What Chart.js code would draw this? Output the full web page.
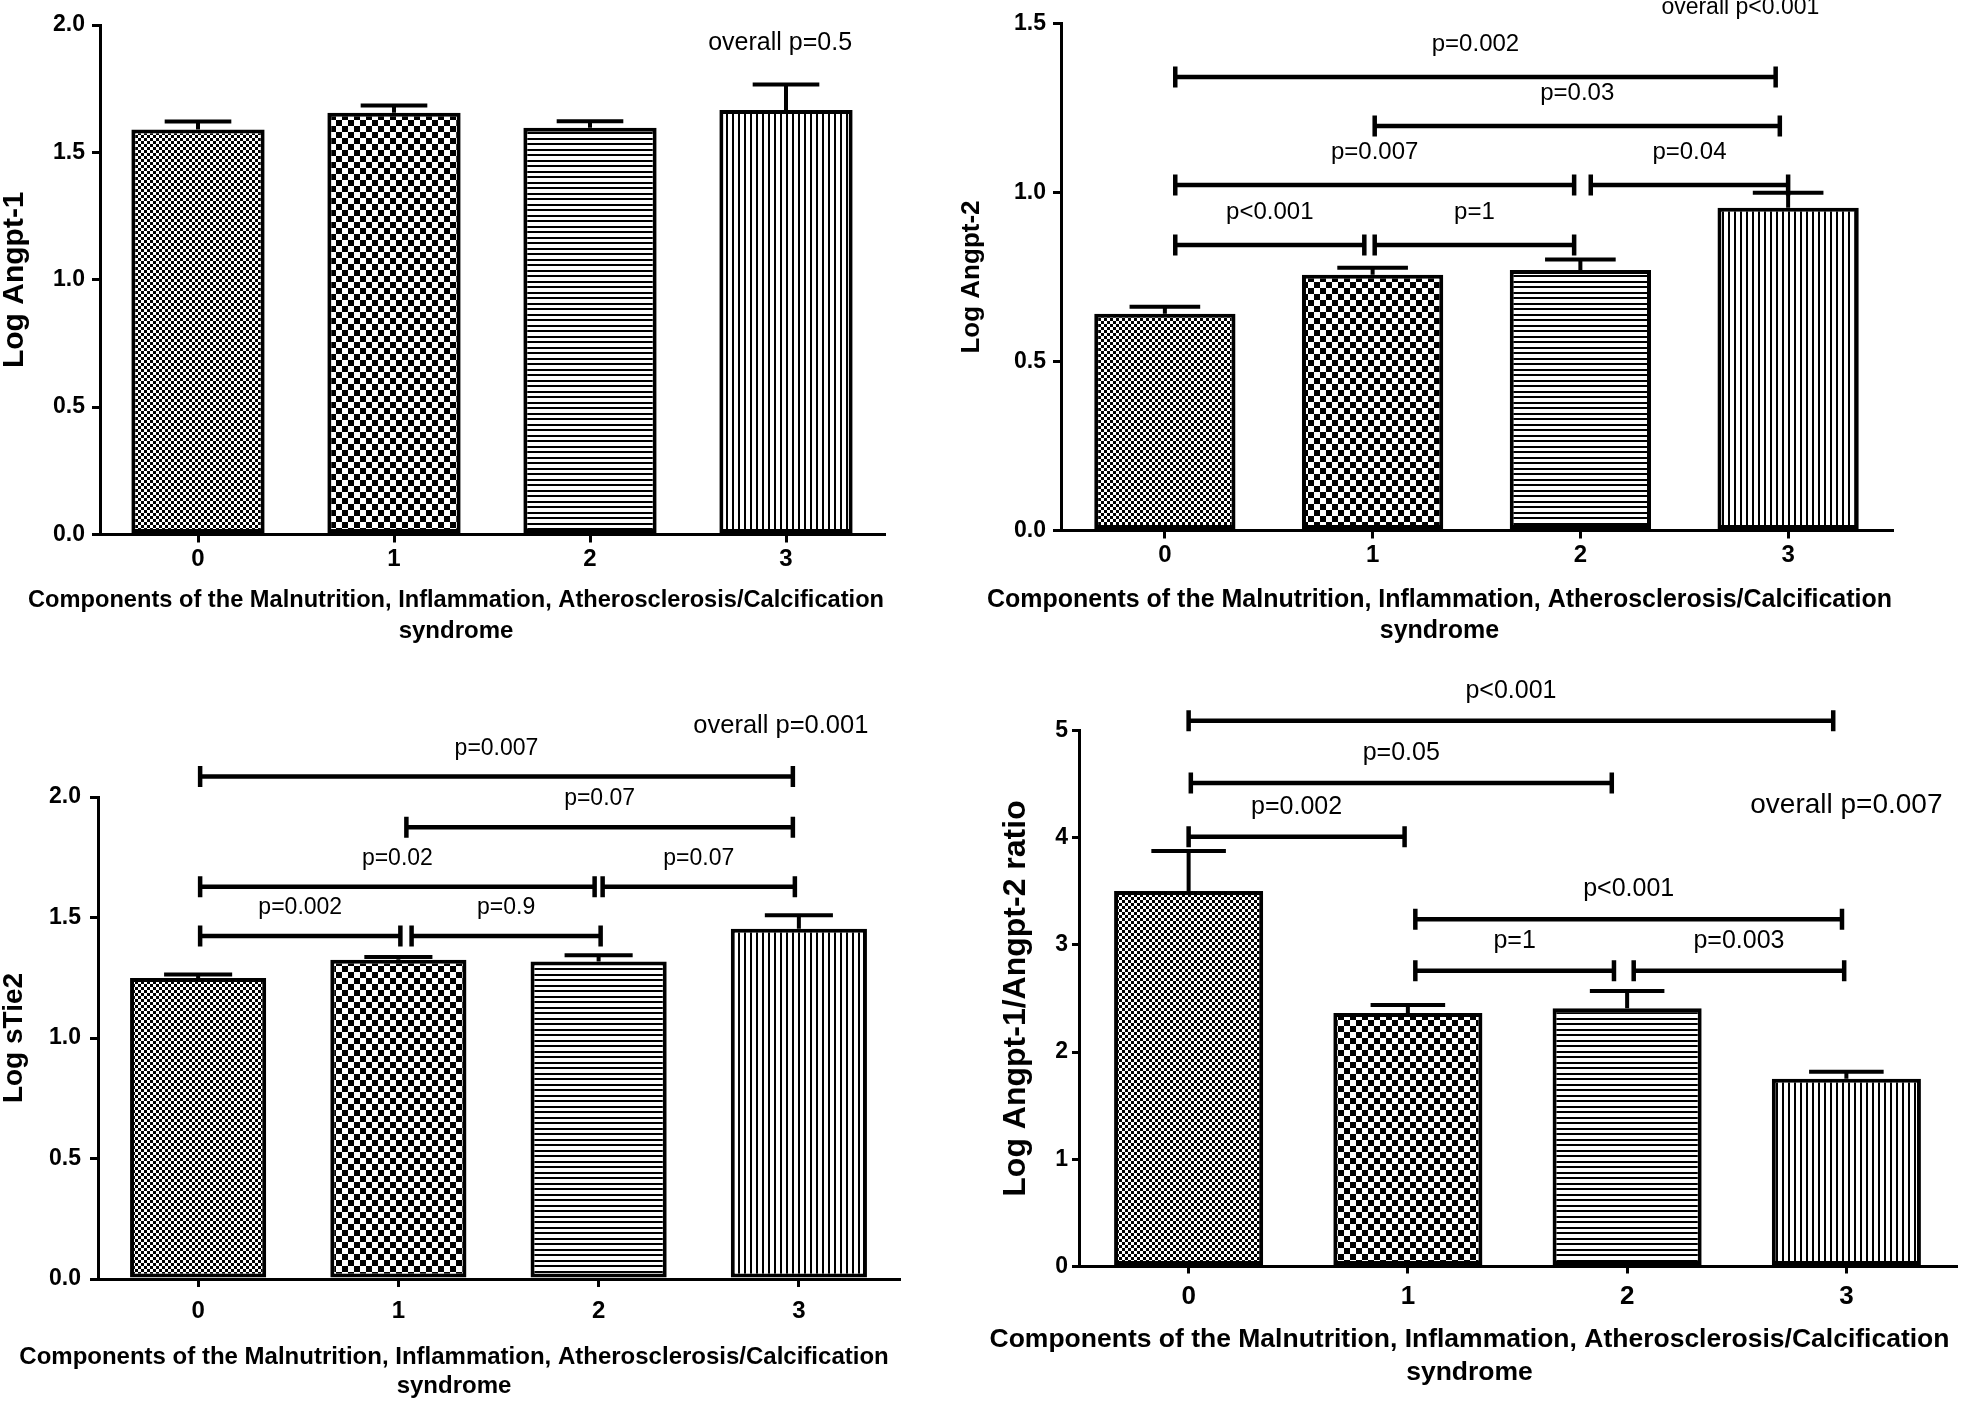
<!DOCTYPE html>
<html><head><meta charset="utf-8">
<script src="https://cdn.jsdelivr.net/npm/chart.js@4.4.1/dist/chart.umd.min.js"></script>
<style>
html,body{margin:0;padding:0;background:#fff;}
#wrap{position:relative;width:1961px;height:1401px;overflow:hidden;background:#fff;}
canvas{position:absolute;left:0;top:0;}
</style></head><body><div id="wrap">
<canvas id="c1" width="1961" height="1401"></canvas>
<canvas id="c2" width="1961" height="1401"></canvas>
<canvas id="c3" width="1961" height="1401"></canvas>
<canvas id="c4" width="1961" height="1401"></canvas>
</div>
<script>
// ---------- data ----------
const categories = ['0', '1', '2', '3'];
const xTitleLines = ['Components of the Malnutrition, Inflammation, Atherosclerosis/Calcification', 'syndrome'];

const angpt1Mean = [1.590, 1.656, 1.597, 1.666];
const angpt1Sem  = [0.031, 0.028, 0.025, 0.100];
const angpt1Ticks = [0, 0.5, 1.0, 1.5, 2.0];

const angpt2Mean = [0.641, 0.757, 0.771, 0.955];
const angpt2Sem  = [0.021, 0.020, 0.031, 0.044];
const angpt2Ticks = [0, 0.5, 1.0, 1.5];
const angpt2Pairs = [[0, 1], [1, 2], [0, 2], [2, 3], [1, 3], [0, 3]];
const angpt2PLabels = ['p<0.001', 'p=1', 'p=0.007', 'p=0.04', 'p=0.03', 'p=0.002'];

const sTie2Mean = [1.249, 1.325, 1.317, 1.453];
const sTie2Sem  = [0.015, 0.011, 0.026, 0.056];
const sTie2Ticks = [0, 0.5, 1.0, 1.5, 2.0];
const sTie2Pairs = [[0, 1], [1, 2], [0, 2], [2, 3], [1, 3], [0, 3]];
const sTie2PLabels = ['p=0.002', 'p=0.9', 'p=0.02', 'p=0.07', 'p=0.07', 'p=0.007'];

const ratioMean = [3.503, 2.364, 2.408, 1.751];
const ratioSem  = [0.372, 0.075, 0.162, 0.066];
const ratioTicks = [0, 1, 2, 3, 4, 5];
const ratioPairs = [[0, 1], [0, 2], [0, 3], [1, 2], [2, 3], [1, 3]];
const ratioPLabels = ['p=0.002', 'p=0.05', 'p<0.001', 'p=1', 'p=0.003', 'p<0.001'];

const overallLabels = ['overall p=0.5', 'overall p<0.001', 'overall p=0.001', 'overall p=0.007'];

// ---------- annotation placement (data units) ----------
const annot = {
  p1: { levels: [], ends: [], overallAt: [2.97, 1.93] },
  p2: { levels: [0.845, 0.845, 1.022, 1.022, 1.197, 1.342],
        ends: [[0.05, 0.96], [1.01, 1.97], [0.05, 1.97], [2.05, 3.0], [1.01, 2.96], [0.05, 2.94]],
        overallAt: [2.77, 1.546] },
  p3: { levels: [1.423, 1.423, 1.628, 1.628, 1.875, 2.085],
        ends: [[0.01, 1.01], [1.066, 2.01], [0.01, 1.98], [2.02, 2.98], [1.04, 2.97], [0.01, 2.97]],
        overallAt: [2.91, 2.295] },
  p4: { levels: [4.01, 4.51, 5.09, 2.76, 2.76, 3.24],
        ends: [[0, 0.985], [0.01, 1.93], [0, 2.94], [1.034, 1.94], [2.03, 2.99], [1.034, 2.98]],
        overallAt: [3.0, 4.30] }
};

const FAM = "'Liberation Sans', Arial, Helvetica, sans-serif";

// ---------- fill patterns ----------
function makePattern(kind) {
  const c = document.createElement('canvas');
  const g = c.getContext('2d');
  if (kind === 'fine') {
    c.width = 6; c.height = 6;
    g.fillStyle = '#fff'; g.fillRect(0, 0, 6, 6);
    g.fillStyle = '#000'; g.fillRect(0, 0, 3, 3); g.fillRect(3, 3, 3, 3);
  } else if (kind === 'check') {
    c.width = 12; c.height = 12;
    g.fillStyle = '#fff'; g.fillRect(0, 0, 12, 12);
    g.fillStyle = '#000'; g.fillRect(0, 0, 6, 6); g.fillRect(6, 6, 6, 6);
  } else if (kind === 'hline') {
    c.width = 4; c.height = 11;
    g.fillStyle = '#fff'; g.fillRect(0, 0, 4, 11);
    g.fillStyle = '#000'; g.fillRect(0, 0, 4, 2); g.fillRect(0, 6, 4, 2);
  } else {
    c.width = 12; c.height = 4;
    g.fillStyle = '#fff'; g.fillRect(0, 0, 12, 4);
    g.fillStyle = '#000'; g.fillRect(0, 0, 2, 4); g.fillRect(6, 0, 2, 4);
  }
  return g.createPattern(c, 'repeat');
}
const fills = [makePattern('fine'), makePattern('check'), makePattern('hline'), makePattern('vline')];

// ---------- plugins ----------
const errBarPlugin = {
  id: 'errBars',
  afterDatasetsDraw(chart, args, o) {
    const { ctx } = chart;
    const x = chart.scales.x, y = chart.scales.y;
    const meta = chart.getDatasetMeta(0);
    ctx.save();
    ctx.strokeStyle = '#000'; ctx.lineWidth = o.lineWidth; ctx.lineCap = 'butt';
    o.mean.forEach((m, i) => {
      const px = x.getPixelForValue(i);
      const y0 = y.getPixelForValue(m);
      const y1 = y.getPixelForValue(m + o.sem[i]);
      const half = meta.data[i].width * o.capFrac / 2;
      ctx.beginPath();
      ctx.moveTo(px, y0); ctx.lineTo(px, y1);
      ctx.moveTo(px - half, y1); ctx.lineTo(px + half, y1);
      ctx.stroke();
    });
    ctx.restore();
  }
};

const annotPlugin = {
  id: 'annot',
  afterDraw(chart, args, o) {
    const { ctx } = chart;
    const x = chart.scales.x, y = chart.scales.y;
    ctx.save();
    ctx.strokeStyle = '#000'; ctx.fillStyle = '#000';
    ctx.textAlign = 'center'; ctx.textBaseline = 'middle';
    ctx.font = o.labelSize + 'px ' + FAM;
    (o.labels || []).forEach((lab, k) => {
      const xa = x.getPixelForValue(o.ends[k][0]);
      const xb = x.getPixelForValue(o.ends[k][1]);
      const yy = y.getPixelForValue(o.levels[k]);
      ctx.lineWidth = o.lineWidth;
      ctx.beginPath();
      ctx.moveTo(xa, yy); ctx.lineTo(xb, yy);
      ctx.stroke();
      ctx.lineWidth = o.tickWidth;
      ctx.beginPath();
      ctx.moveTo(xa, yy - o.tickH / 2); ctx.lineTo(xa, yy + o.tickH / 2);
      ctx.moveTo(xb, yy - o.tickH / 2); ctx.lineTo(xb, yy + o.tickH / 2);
      ctx.stroke();
      ctx.fillText(lab, (xa + xb) / 2, yy - o.labelOffset);
    });
    ctx.font = o.overallSize + 'px ' + FAM;
    ctx.fillText(o.overall, x.getPixelForValue(o.overallAt[0]), y.getPixelForValue(o.overallAt[1]));
    ctx.restore();
  }
};

// ---------- builder ----------
function buildPanel(id, p) {
  const ticksFmt = p.decimals;
  return new Chart(document.getElementById(id), {
    type: 'bar',
    data: {
      labels: categories,
      datasets: [{
        data: p.mean,
        backgroundColor: fills,
        borderColor: '#000',
        borderWidth: 4,
        borderSkipped: false,
        barPercentage: 0.68,
        categoryPercentage: 1
      }]
    },
    options: {
      responsive: false,
      animation: false,
      devicePixelRatio: 1,
      layout: { padding: p.pad },
      events: [],
      plugins: {
        legend: { display: false },
        tooltip: { enabled: false },
        title: {
          display: true, position: 'bottom', align: 'center',
          text: xTitleLines, color: '#000',
          font: { family: FAM, size: p.xTitleSize, weight: 'bold', lineHeight: p.xTitleLH + 'px' },
          padding: { top: 0, bottom: 0 }
        },
        errBars: { mean: p.mean, sem: p.sem, lineWidth: 4, capFrac: 0.5 },
        annot: {
          labels: p.pLabels, ends: p.annot.ends, levels: p.annot.levels,
          labelSize: p.labelSize, labelOffset: p.labelOffset,
          lineWidth: 4.5, tickWidth: 4.5, tickH: 21,
          overall: p.overall, overallAt: p.annot.overallAt, overallSize: p.overallSize
        }
      },
      scales: {
        x: {
          type: 'category', offset: true,
          grid: { display: true, drawOnChartArea: false, drawTicks: true, tickLength: p.tickLen, lineWidth: 3, color: '#000', offset: false },
          border: { display: true, width: 3, color: '#000' },
          ticks: { color: '#000', padding: p.xTickPad, font: { family: FAM, size: p.xTickSize, weight: 'bold' } },
          afterFit(s) { s.height = p.xH; }
        },
        y: {
          min: 0, max: p.ticks[p.ticks.length - 1],
          afterBuildTicks(s) { s.ticks = p.ticks.map(v => ({ value: v })); },
          grid: { display: true, drawOnChartArea: false, drawTicks: true, tickLength: p.tickLen, lineWidth: 3, color: '#000' },
          border: { display: true, width: 3, color: '#000' },
          ticks: { color: '#000', padding: p.yTickPad, font: { family: FAM, size: p.yTickSize, weight: 'bold' },
                   callback: v => Number(v).toFixed(ticksFmt) },
          title: { display: true, text: p.yTitle, color: '#000',
                   font: { family: FAM, size: p.yTitleSize, weight: 'bold', lineHeight: 1.2 },
                   padding: { top: p.yTitlePad, bottom: 0 } },
          afterFit(s) { s.width = p.yW; }
        }
      }
    },
    plugins: [errBarPlugin, annotPlugin]
  });
}

buildPanel('c1', {
  mean: angpt1Mean, sem: angpt1Sem, ticks: angpt1Ticks, decimals: 1,
  pLabels: [], annot: annot.p1, overall: overallLabels[0], overallSize: 25,
  labelSize: 23, labelOffset: 32,
  pad: { left: 28, right: 1077, top: 25, bottom: 754.5 },
  yW: 72, xH: 50, tickLen: 8,
  xTickSize: 24, xTickPad: 2, yTickSize: 23, yTickPad: 7,
  xTitleSize: 24, xTitleLH: 31,
  yTitle: 'Log Angpt-1', yTitleSize: 30, yTitlePad: -31
});

buildPanel('c2', {
  mean: angpt2Mean, sem: angpt2Sem, ticks: angpt2Ticks, decimals: 1,
  pLabels: angpt2PLabels, annot: annot.p2, overall: overallLabels[1], overallSize: 23,
  labelSize: 24, labelOffset: 33,
  pad: { left: 987, right: 69, top: 23.5, bottom: 754 },
  yW: 74, xH: 54.5, tickLen: 8,
  xTickSize: 24, xTickPad: 2, yTickSize: 23, yTickPad: 7,
  xTitleSize: 25, xTitleLH: 31,
  yTitle: 'Log Angpt-2', yTitleSize: 26, yTitlePad: -30.6
});

buildPanel('c3', {
  mean: sTie2Mean, sem: sTie2Sem, ticks: sTie2Ticks, decimals: 1,
  pLabels: sTie2PLabels, annot: annot.p3, overall: overallLabels[2], overallSize: 25.5,
  labelSize: 23, labelOffset: 28,
  pad: { left: 9, right: 1062, top: 797, bottom: 0 },
  yW: 89, xH: 64, tickLen: 8,
  xTickSize: 24, xTickPad: 10, yTickSize: 23, yTickPad: 9,
  xTitleSize: 24, xTitleLH: 29,
  yTitle: 'Log sTie2', yTitleSize: 28, yTitlePad: -11.8
});

buildPanel('c4', {
  mean: ratioMean, sem: ratioSem, ticks: ratioTicks, decimals: 0,
  pLabels: ratioPLabels, annot: annot.p4, overall: overallLabels[3], overallSize: 28,
  labelSize: 25, labelOffset: 30,
  pad: { left: 983, right: 5, top: 730.5, bottom: 12 },
  yW: 96, xH: 56.5, tickLen: 7,
  xTickSize: 26, xTickPad: 8, yTickSize: 23, yTickPad: 4,
  xTitleSize: 26.5, xTitleLH: 33,
  yTitle: 'Log Angpt-1/Angpt-2 ratio', yTitleSize: 32, yTitlePad: 13.8
});
</script>
</body></html>
